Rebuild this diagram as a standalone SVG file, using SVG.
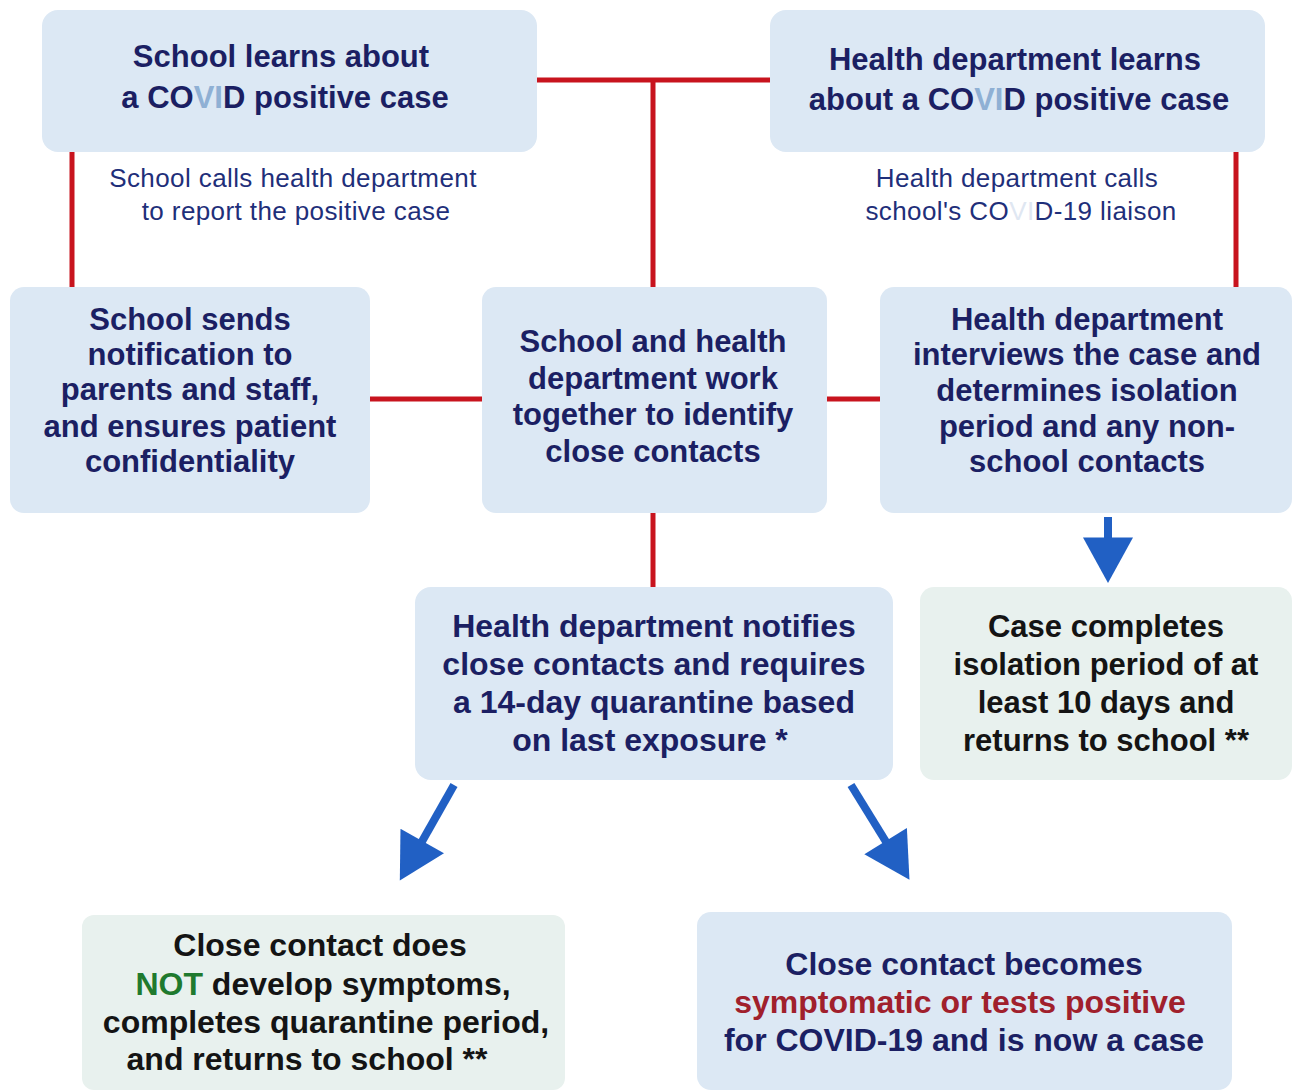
<svg xmlns="http://www.w3.org/2000/svg" width="1294" height="1090" viewBox="0 0 1294 1090">
  <style>
    .box { fill: #dce8f4; }
    .gbox { fill: #e8f1ee; }
    .t { font-family: "Liberation Sans", Arial, sans-serif; font-weight: bold; font-size: 31px; fill: #1b1f63; text-anchor: middle; }
    .big { font-size: 32px; }
    .tk { fill: #141414; }
    .sub { font-family: "Liberation Sans", Arial, sans-serif; font-size: 26px; letter-spacing: 0.4px; fill: #1f2f7a; text-anchor: middle; }
    .red { stroke: #c8141e; stroke-width: 5; fill: none; }
    .blue { stroke: #2160c4; stroke-width: 8; fill: none; }
    .vi { fill: #8fb0d4; }
    .vi2 { fill: #dfe7f2; }
  </style>
  <defs>
    <marker id="head" markerUnits="userSpaceOnUse" markerWidth="50" markerHeight="50" viewBox="0 0 40 44" refX="4" refY="22" orient="auto">
      <path d="M0,0 L40,22 L0,44 Z" fill="#2160c4"/>
    </marker>
  </defs>
  <rect width="1294" height="1090" fill="#ffffff"/>

  <!-- connectors -->
  <g id="connectors">
    <line class="red" x1="537" y1="80" x2="770" y2="80"/>
    <line class="red" x1="653" y1="80" x2="653" y2="287"/>
    <line class="red" x1="72" y1="152" x2="72" y2="287"/>
    <line class="red" x1="1236" y1="152" x2="1236" y2="287"/>
    <line class="red" x1="370" y1="399" x2="482" y2="399"/>
    <line class="red" x1="827" y1="399" x2="880" y2="399"/>
    <line class="red" x1="653" y1="513" x2="653" y2="587"/>
    <line class="blue" x1="1108" y1="517" x2="1108" y2="542" marker-end="url(#head)"/>
    <line class="blue" x1="454" y1="785" x2="420" y2="845" marker-end="url(#head)"/>
    <line class="blue" x1="851" y1="785" x2="888" y2="845" marker-end="url(#head)"/>
  </g>

  <!-- edge labels -->
  <g id="labels">
    <text class="sub" x="293" y="187">School calls health department</text>
    <text class="sub" x="296" y="220">to report the positive case</text>
    <text class="sub" x="1017" y="187">Health department calls</text>
    <text class="sub" x="1021" y="220">school's CO<tspan class="vi2">VI</tspan>D-19 liaison</text>
  </g>

  <g id="school-learns">
    <rect class="box" x="42" y="10" width="495" height="142" rx="16"/>
    <text class="t" x="281" y="67">School learns about</text>
    <text class="t" x="285" y="108">a CO<tspan class="vi">VI</tspan>D positive case</text>
  </g>

  <g id="health-learns">
    <rect class="box" x="770" y="10" width="495" height="142" rx="16"/>
    <text class="t" x="1015" y="70">Health department learns</text>
    <text class="t" x="1019" y="110">about a CO<tspan class="vi">VI</tspan>D positive case</text>
  </g>

  <g id="school-notifies">
    <rect class="box" x="10" y="287" width="360" height="226" rx="14"/>
    <text class="t" x="190" y="330">School sends</text>
    <text class="t" x="190" y="365">notification to</text>
    <text class="t" x="190" y="400">parents and staff,</text>
    <text class="t" x="190" y="437">and ensures patient</text>
    <text class="t" x="190" y="472">confidentiality</text>
  </g>

  <g id="work-together">
    <rect class="box" x="482" y="287" width="345" height="226" rx="14"/>
    <text class="t" x="653" y="352">School and health</text>
    <text class="t" x="653" y="389">department work</text>
    <text class="t" x="653" y="425">together to identify</text>
    <text class="t" x="653" y="462">close contacts</text>
  </g>

  <g id="health-interviews">
    <rect class="box" x="880" y="287" width="412" height="226" rx="14"/>
    <text class="t" x="1087" y="330">Health department</text>
    <text class="t" x="1087" y="365">interviews the case and</text>
    <text class="t" x="1087" y="401">determines isolation</text>
    <text class="t" x="1087" y="437">period and any non-</text>
    <text class="t" x="1087" y="472">school contacts</text>
  </g>

  <g id="health-notifies">
    <rect class="box" x="415" y="587" width="478" height="193" rx="16"/>
    <text class="t big" x="654" y="637">Health department notifies</text>
    <text class="t big" x="654" y="675">close contacts and requires</text>
    <text class="t big" x="654" y="713">a 14-day quarantine based</text>
    <text class="t big" x="650" y="751">on last exposure *</text>
  </g>

  <g id="case-completes">
    <rect class="gbox" x="920" y="587" width="372" height="193" rx="14"/>
    <text class="t tk" x="1106" y="637">Case completes</text>
    <text class="t tk" x="1106" y="675">isolation period of at</text>
    <text class="t tk" x="1106" y="713">least 10 days and</text>
    <text class="t tk" x="1106" y="751">returns to school **</text>
  </g>

  <g id="no-symptoms">
    <rect class="gbox" x="82" y="915" width="483" height="175" rx="12"/>
    <text class="t big tk" x="320" y="956">Close contact does</text>
    <text class="t big tk" x="323" y="995"><tspan fill="#1f7a2e">NOT</tspan> develop symptoms,</text>
    <text class="t big tk" x="326" y="1033">completes quarantine period,</text>
    <text class="t big tk" x="307" y="1070">and returns to school **</text>
  </g>

  <g id="becomes-case">
    <rect class="box" x="697" y="912" width="535" height="178" rx="14"/>
    <text class="t big" x="964" y="975">Close contact becomes</text>
    <text class="t big" x="960" y="1013" style="fill:#a0202c">symptomatic or tests positive</text>
    <text class="t big" x="964" y="1051">for COVID-19 and is now a case</text>
  </g>
</svg>
